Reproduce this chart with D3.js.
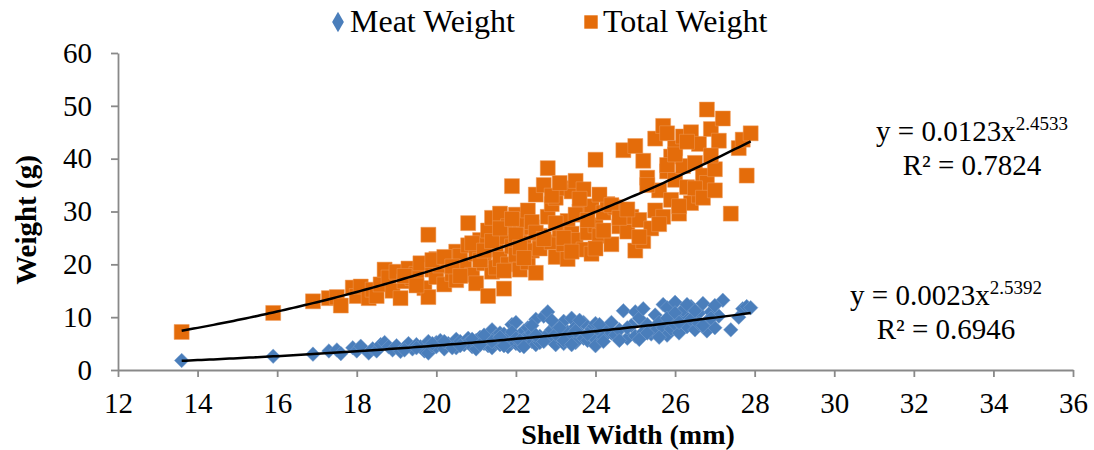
<!DOCTYPE html>
<html>
<head>
<meta charset="utf-8">
<script src="https://d3js.org/d3.v7.min.js"></script>
<style>
  body { margin: 0; background: #fff; }
  text { font-family: "Liberation Serif", "Times New Roman", serif; fill: #000; }
  .tick text { font-family: "Liberation Serif", "Times New Roman", serif !important; font-size: 29px; fill: #000; }
</style>
</head>
<body>
<div id="main"></div>
<script>
var width = 1094;
var height = 450;
var margin = {t: 53, r: 21, b: 80, l: 118};

// shell width (mm) of each crab, with its meat and total weight (g)
var shellWidth = [
  13.6, 15.9, 16.9, 17.3, 17.5, 17.6, 17.9, 18.0, 18.1, 18.3, 18.4, 18.5, 18.6, 18.7, 18.8, 18.9,
  19.0, 19.1, 19.2, 19.3, 19.4, 19.5, 19.6, 19.7, 19.8, 19.8, 19.9, 20.0, 20.0, 20.1, 20.2, 20.3,
  20.4, 20.5, 20.5, 20.6, 20.7, 20.8, 20.8, 20.9, 21.0, 21.0, 21.1, 21.2, 21.3, 21.3, 21.4, 21.4,
  21.5, 21.5, 21.6, 21.6, 21.7, 21.7, 21.8, 21.8, 21.9, 21.9, 22.0, 22.0, 22.1, 22.1, 22.2, 22.2,
  22.3, 22.3, 22.4, 22.4, 22.5, 22.5, 22.6, 22.6, 22.7, 22.8, 22.8, 22.9, 22.9, 23.0, 23.0, 23.1,
  23.2, 23.2, 23.3, 23.3, 23.4, 23.4, 23.5, 23.5, 23.6, 23.7, 23.7, 23.8, 23.9, 23.9, 24.0, 24.0,
  24.1, 24.2, 24.3, 24.4, 24.5, 24.6, 24.7, 24.8, 24.9, 25.0, 25.0, 25.1, 25.2, 25.2, 25.3, 25.4,
  25.5, 25.5, 25.6, 25.7, 25.7, 25.8, 25.8, 25.9, 25.9, 26.0, 26.0, 26.1, 26.2, 26.2, 26.3, 26.4,
  26.4, 26.5, 26.6, 26.6, 26.7, 26.8, 26.8, 26.9, 27.0, 27.1, 27.2, 27.4, 27.6, 27.7, 27.8, 27.9,
  19.2, 19.5, 19.9, 20.2, 20.4, 20.6, 20.9, 21.1, 21.2, 21.4, 21.6, 21.7, 21.9, 22.0, 22.1, 22.2,
  22.4, 22.5, 22.7, 22.9, 23.0, 23.1, 23.2, 23.4, 23.5, 23.6, 23.8, 24.0, 24.1, 24.2, 24.4, 24.6,
  24.8, 25.1, 25.3, 25.6, 25.8, 26.0, 26.1, 26.3, 26.5, 26.7, 26.9, 27.0
];
var meatWeight = [
  1.8, 2.6, 3.0, 3.6, 3.8, 3.1, 4.2, 3.6, 4.5, 3.2, 4.0, 3.6, 4.8, 5.2, 4.4, 3.8,
  4.6, 3.5, 4.2, 5.0, 4.0, 4.8, 4.4, 3.6, 5.4, 3.2, 4.6, 5.2, 4.4, 5.6, 4.0, 5.0,
  4.6, 5.8, 4.2, 5.4, 4.8, 6.0, 5.2, 4.4, 5.6, 4.0, 6.2, 5.0, 4.6, 5.8, 7.6, 4.2,
  6.4, 5.2, 7.0, 4.8, 5.6, 6.8, 6.0, 4.4, 8.6, 5.4, 9.0, 5.0, 6.6, 4.6, 7.4, 5.8,
  6.2, 8.0, 5.4, 7.0, 9.6, 4.8, 6.4, 5.2, 10.2, 11.0, 6.8, 5.6, 7.6, 4.8, 8.4, 6.2,
  9.2, 5.0, 7.2, 5.8, 9.8, 6.6, 8.2, 5.2, 7.0, 6.0, 9.0, 5.6, 7.8, 6.4, 8.8, 5.8,
  7.4, 6.2, 8.0, 7.0, 6.6, 7.6, 11.2, 6.0, 8.4, 11.0, 6.4, 9.8, 7.2, 11.6, 8.6, 6.8,
  10.4, 7.4, 9.0, 12.4, 8.0, 11.8, 6.6, 9.4, 7.8, 12.8, 8.6, 7.0, 10.6, 11.4, 8.2, 12.0,
  9.6, 7.6, 10.8, 8.8, 12.6, 9.2, 7.4, 11.0, 8.0, 10.2, 13.2, 7.6, 10.0, 11.6, 12.0, 11.8,
  3.8, 4.2, 5.0, 5.4, 4.2, 4.6, 5.8, 4.8, 6.6, 5.4, 6.2, 4.6, 7.2, 6.0, 5.6, 4.4,
  8.4, 6.6, 5.4, 9.4, 6.8, 8.0, 5.6, 4.8, 7.4, 9.4, 6.8, 4.6, 8.6, 5.4, 9.0, 5.6,
  8.0, 5.8, 7.0, 6.2, 9.8, 10.8, 9.0, 12.4, 11.2, 8.4, 9.8, 12.2
];
var totalWeight = [
  7.2, 10.8, 13.0, 13.6, 13.8, 12.2, 15.6, 14.0, 15.8, 13.6, 15.2, 14.0, 16.2, 19.0, 17.5, 15.0,
  18.6, 13.6, 16.8, 19.2, 17.4, 18.2, 20.2, 15.5, 25.6, 13.8, 19.0, 17.6, 21.0, 19.8, 16.2, 20.6,
  18.2, 22.4, 17.0, 21.6, 19.4, 27.8, 23.6, 18.0, 22.0, 16.4, 24.6, 20.2, 14.0, 26.4, 28.8, 18.6,
  22.8, 19.4, 29.6, 21.0, 15.4, 25.2, 27.2, 20.0, 34.8, 23.4, 29.4, 21.8, 26.4, 19.0, 28.4, 24.0,
  20.4, 30.2, 22.6, 27.0, 33.2, 18.4, 25.4, 23.0, 35.0, 38.2, 29.0, 24.2, 31.4, 21.4, 32.6, 26.6,
  34.4, 23.8, 28.2, 21.0, 33.8, 25.8, 35.8, 24.6, 30.0, 22.8, 34.2, 26.0, 31.0, 22.0, 39.8, 27.4,
  25.4, 29.8, 31.4, 23.8, 30.8, 27.2, 41.6, 26.2, 29.0, 42.4, 22.6, 28.4, 24.4, 39.6, 36.4, 26.8,
  43.8, 30.2, 34.0, 46.2, 29.0, 44.8, 37.6, 40.4, 32.2, 42.0, 36.0, 29.6, 38.6, 44.2, 34.6, 45.0,
  31.6, 39.2, 42.8, 33.0, 36.8, 49.3, 35.4, 45.6, 38.0, 43.4, 47.6, 29.6, 42.0, 43.6, 36.8, 44.8,
  17.8, 16.0, 20.8, 21.4, 19.6, 17.8, 24.0, 20.8, 22.6, 24.4, 26.8, 18.8, 28.6, 25.6, 23.2, 21.2,
  28.0, 26.0, 24.8, 33.0, 27.8, 35.4, 25.0, 22.4, 29.4, 32.4, 28.4, 23.0, 33.2, 26.4, 31.2, 28.8,
  30.4, 25.2, 35.0, 27.6, 38.8, 40.8, 31.0, 43.2, 34.4, 32.6, 40.6, 34.0
];

// power trend lines y = a * x^b, fitted per series
var seriesNames = ['Meat Weight', 'Total Weight'];
var trendA = [0.0023, 0.0123];
var trendB = [2.5392, 2.4533];
var trendR2 = ['0.6946', '0.7824'];

var xTicks = [12, 14, 16, 18, 20, 22, 24, 26, 28, 30, 32, 34, 36];
var yTicks = [0, 10, 20, 30, 40, 50, 60];

var blue = '#4A7EBB';
var orange = '#E46C0A';
var axisGrey = '#898989';

var svg = d3.select('#main').append('svg')
  .attr('width', width)
  .attr('height', height);

var xScale = d3.scaleLinear().domain([12, 36]).range([margin.l, width - margin.r]);
var yScale = d3.scaleLinear().domain([0, 60]).range([height - margin.b, margin.t]);

var xAxis = d3.axisBottom(xScale).tickValues(xTicks).tickSize(7).tickSizeOuter(0).tickPadding(15);
var yAxis = d3.axisLeft(yScale).tickValues(yTicks).tickSize(7).tickSizeOuter(0).tickPadding(19);

var gx = svg.append('g')
  .attr('transform', `translate(0, ${height - margin.b})`)
  .call(xAxis);
var gy = svg.append('g')
  .attr('transform', `translate(${margin.l}, 0)`)
  .call(yAxis);

[gx, gy].forEach(function(g) {
  g.attr('font-family', null).attr('font-size', null);
  g.select('.domain').attr('stroke', axisGrey).attr('stroke-width', 1.8);
  g.selectAll('.tick line').attr('stroke', axisGrey).attr('stroke-width', 1.8);
  g.selectAll('.tick text').attr('fill', '#000');
});

var points = shellWidth.map(function(x, i) {
  return {x: x, meat: meatWeight[i], total: totalWeight[i]};
});

var diamond = d3.symbol().type(d3.symbolDiamond2).size(135);
var square = d3.symbol().type(d3.symbolSquare).size(225);

// total weight squares
svg.append('g').selectAll('path')
  .data(points)
  .enter()
  .append('path')
  .attr('d', square)
  .attr('transform', function(d) { return `translate(${xScale(d.x)}, ${yScale(d.total)})`; })
  .attr('fill', orange)
  .attr('stroke', '#EE9A5A')
  .attr('stroke-width', 0.5);

// meat weight diamonds
svg.append('g').selectAll('path')
  .data(points)
  .enter()
  .append('path')
  .attr('d', diamond)
  .attr('transform', function(d) { return `translate(${xScale(d.x)}, ${yScale(d.meat)})`; })
  .attr('fill', blue)
  .attr('stroke', '#7BA0CF')
  .attr('stroke-width', 0.5);

// trend lines over the range of the data
var xExtent = d3.extent(shellWidth);
var trendX = d3.range(xExtent[0], xExtent[1] + 0.001, 0.1);
var line = d3.line()
  .x(function(d) { return xScale(d[0]); })
  .y(function(d) { return yScale(d[1]); });

trendA.forEach(function(a, i) {
  svg.append('path')
    .datum(trendX.map(function(x) { return [x, a * Math.pow(x, trendB[i])]; }))
    .attr('d', line)
    .attr('fill', 'none')
    .attr('stroke', '#000')
    .attr('stroke-width', 2.5);
});

// equation labels
var eqPos = [[946, 305], [972, 141]];
trendA.forEach(function(a, i) {
  var t = svg.append('text')
    .attr('x', eqPos[i][0])
    .attr('y', eqPos[i][1])
    .attr('text-anchor', 'middle')
    .style('font-size', '29px');
  t.append('tspan').text('y = ' + a.toFixed(4) + 'x');
  t.append('tspan')
    .attr('dy', -11)
    .style('font-size', '19px')
    .text(trendB[i].toFixed(4));
  svg.append('text')
    .attr('x', eqPos[i][0])
    .attr('y', eqPos[i][1] + 34)
    .attr('text-anchor', 'middle')
    .style('font-size', '29px')
    .text('R² = ' + trendR2[i]);
});

// legend
var legend = svg.append('g');
var legendX = [338, 591];
var legendSymbols = [
  d3.symbol().type(d3.symbolDiamond).size(120),
  d3.symbol().type(d3.symbolSquare).size(180)
];
seriesNames.forEach(function(name, i) {
  legend.append('path')
    .attr('d', legendSymbols[i])
    .attr('transform', `translate(${legendX[i]}, 22)`)
    .attr('fill', i === 0 ? blue : orange);
  legend.append('text')
    .attr('x', legendX[i] + 12)
    .attr('y', 32)
    .style('font-size', '32px')
    .text(name);
});

// axis titles
svg.append('text')
  .attr('x', 628)
  .attr('y', 444)
  .attr('text-anchor', 'middle')
  .style('font-size', '28px')
  .style('font-weight', 'bold')
  .text('Shell Width (mm)');

svg.append('text')
  .attr('transform', `translate(36, 220) rotate(-90)`)
  .attr('text-anchor', 'middle')
  .style('font-size', '29px')
  .style('font-weight', 'bold')
  .text('Weight (g)');
</script>
</body>
</html>
